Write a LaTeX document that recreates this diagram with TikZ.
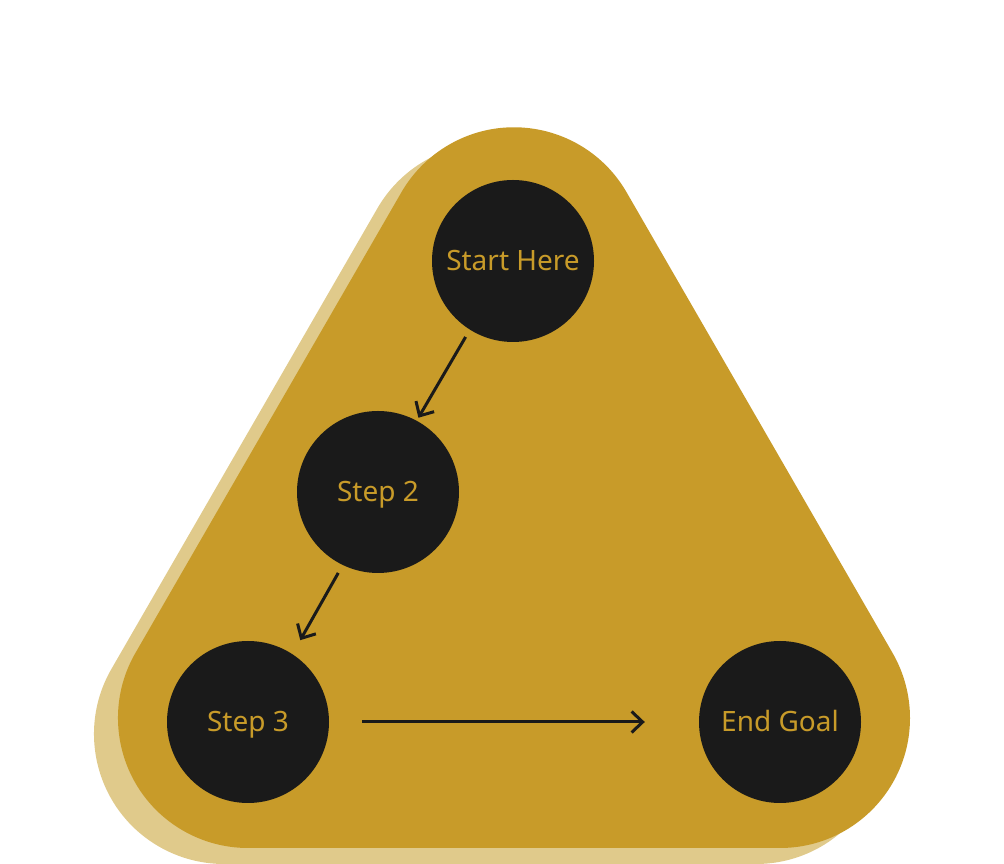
\documentclass[tikz,border=0pt]{standalone}
\usepackage{fontspec}
\setmainfont{Noto Sans}
\usetikzlibrary{arrows.meta,calc}
\definecolor{gold}{HTML}{C89B29}
\definecolor{shadowgold}{HTML}{E0CA8B}
\definecolor{dark}{HTML}{1A1A1A}
\tikzset{
  stepnode/.style={circle, fill=dark, minimum size=162pt, inner sep=0pt, text=gold, font=\fontsize{28}{33}\selectfont, text height=20pt, text depth=0pt},
  flow/.style={draw=dark, line width=3pt, -{Straight Barb[length=11pt,width=21pt,line width=3pt]}}
}
\begin{document}
\begin{tikzpicture}[x=1pt,y=1pt]
\useasboundingbox (0,0) rectangle (1004,864);
% shadow
\begin{scope}[shift={(-24,-16)}]
\coordinate (A) at (514,606.7);
\coordinate (B) at (248,146);
\coordinate (C) at (780,146);
\fill[shadowgold] ($(A)+(30:130)$) arc[start angle=30,end angle=150,radius=130]
  -- ($(B)+(150:130)$) arc[start angle=150,end angle=270,radius=130]
  -- ($(C)+(270:130)$) arc[start angle=270,end angle=390,radius=130] -- cycle;
\end{scope}
% main
\coordinate (A) at (514,606.7);
\coordinate (B) at (248,146);
\coordinate (C) at (780,146);
\fill[gold] ($(A)+(30:130)$) arc[start angle=30,end angle=150,radius=130]
  -- ($(B)+(150:130)$) arc[start angle=150,end angle=270,radius=130]
  -- ($(C)+(270:130)$) arc[start angle=270,end angle=390,radius=130] -- cycle;
% nodes
\node[stepnode] (start) at (513,603) {Start Here};
\node[stepnode] (s2) at (378,372) {Step 2};
\node[stepnode] (s3) at (248,142) {Step 3};
\node[stepnode] (goal) at (780,142) {End Goal};
% connectors
\draw[flow, shorten <=88pt, shorten >=86pt] ([xshift=-3pt]start.center) -- ([xshift=-3pt]s2.center);
\draw[flow, shorten <=93pt, shorten >=94pt] ([xshift=6pt]s2.center) -- ([xshift=6pt]s3.center);
\draw[flow, shorten <=33pt, shorten >=54pt] (s3) -- (goal);
\end{tikzpicture}
\end{document}
